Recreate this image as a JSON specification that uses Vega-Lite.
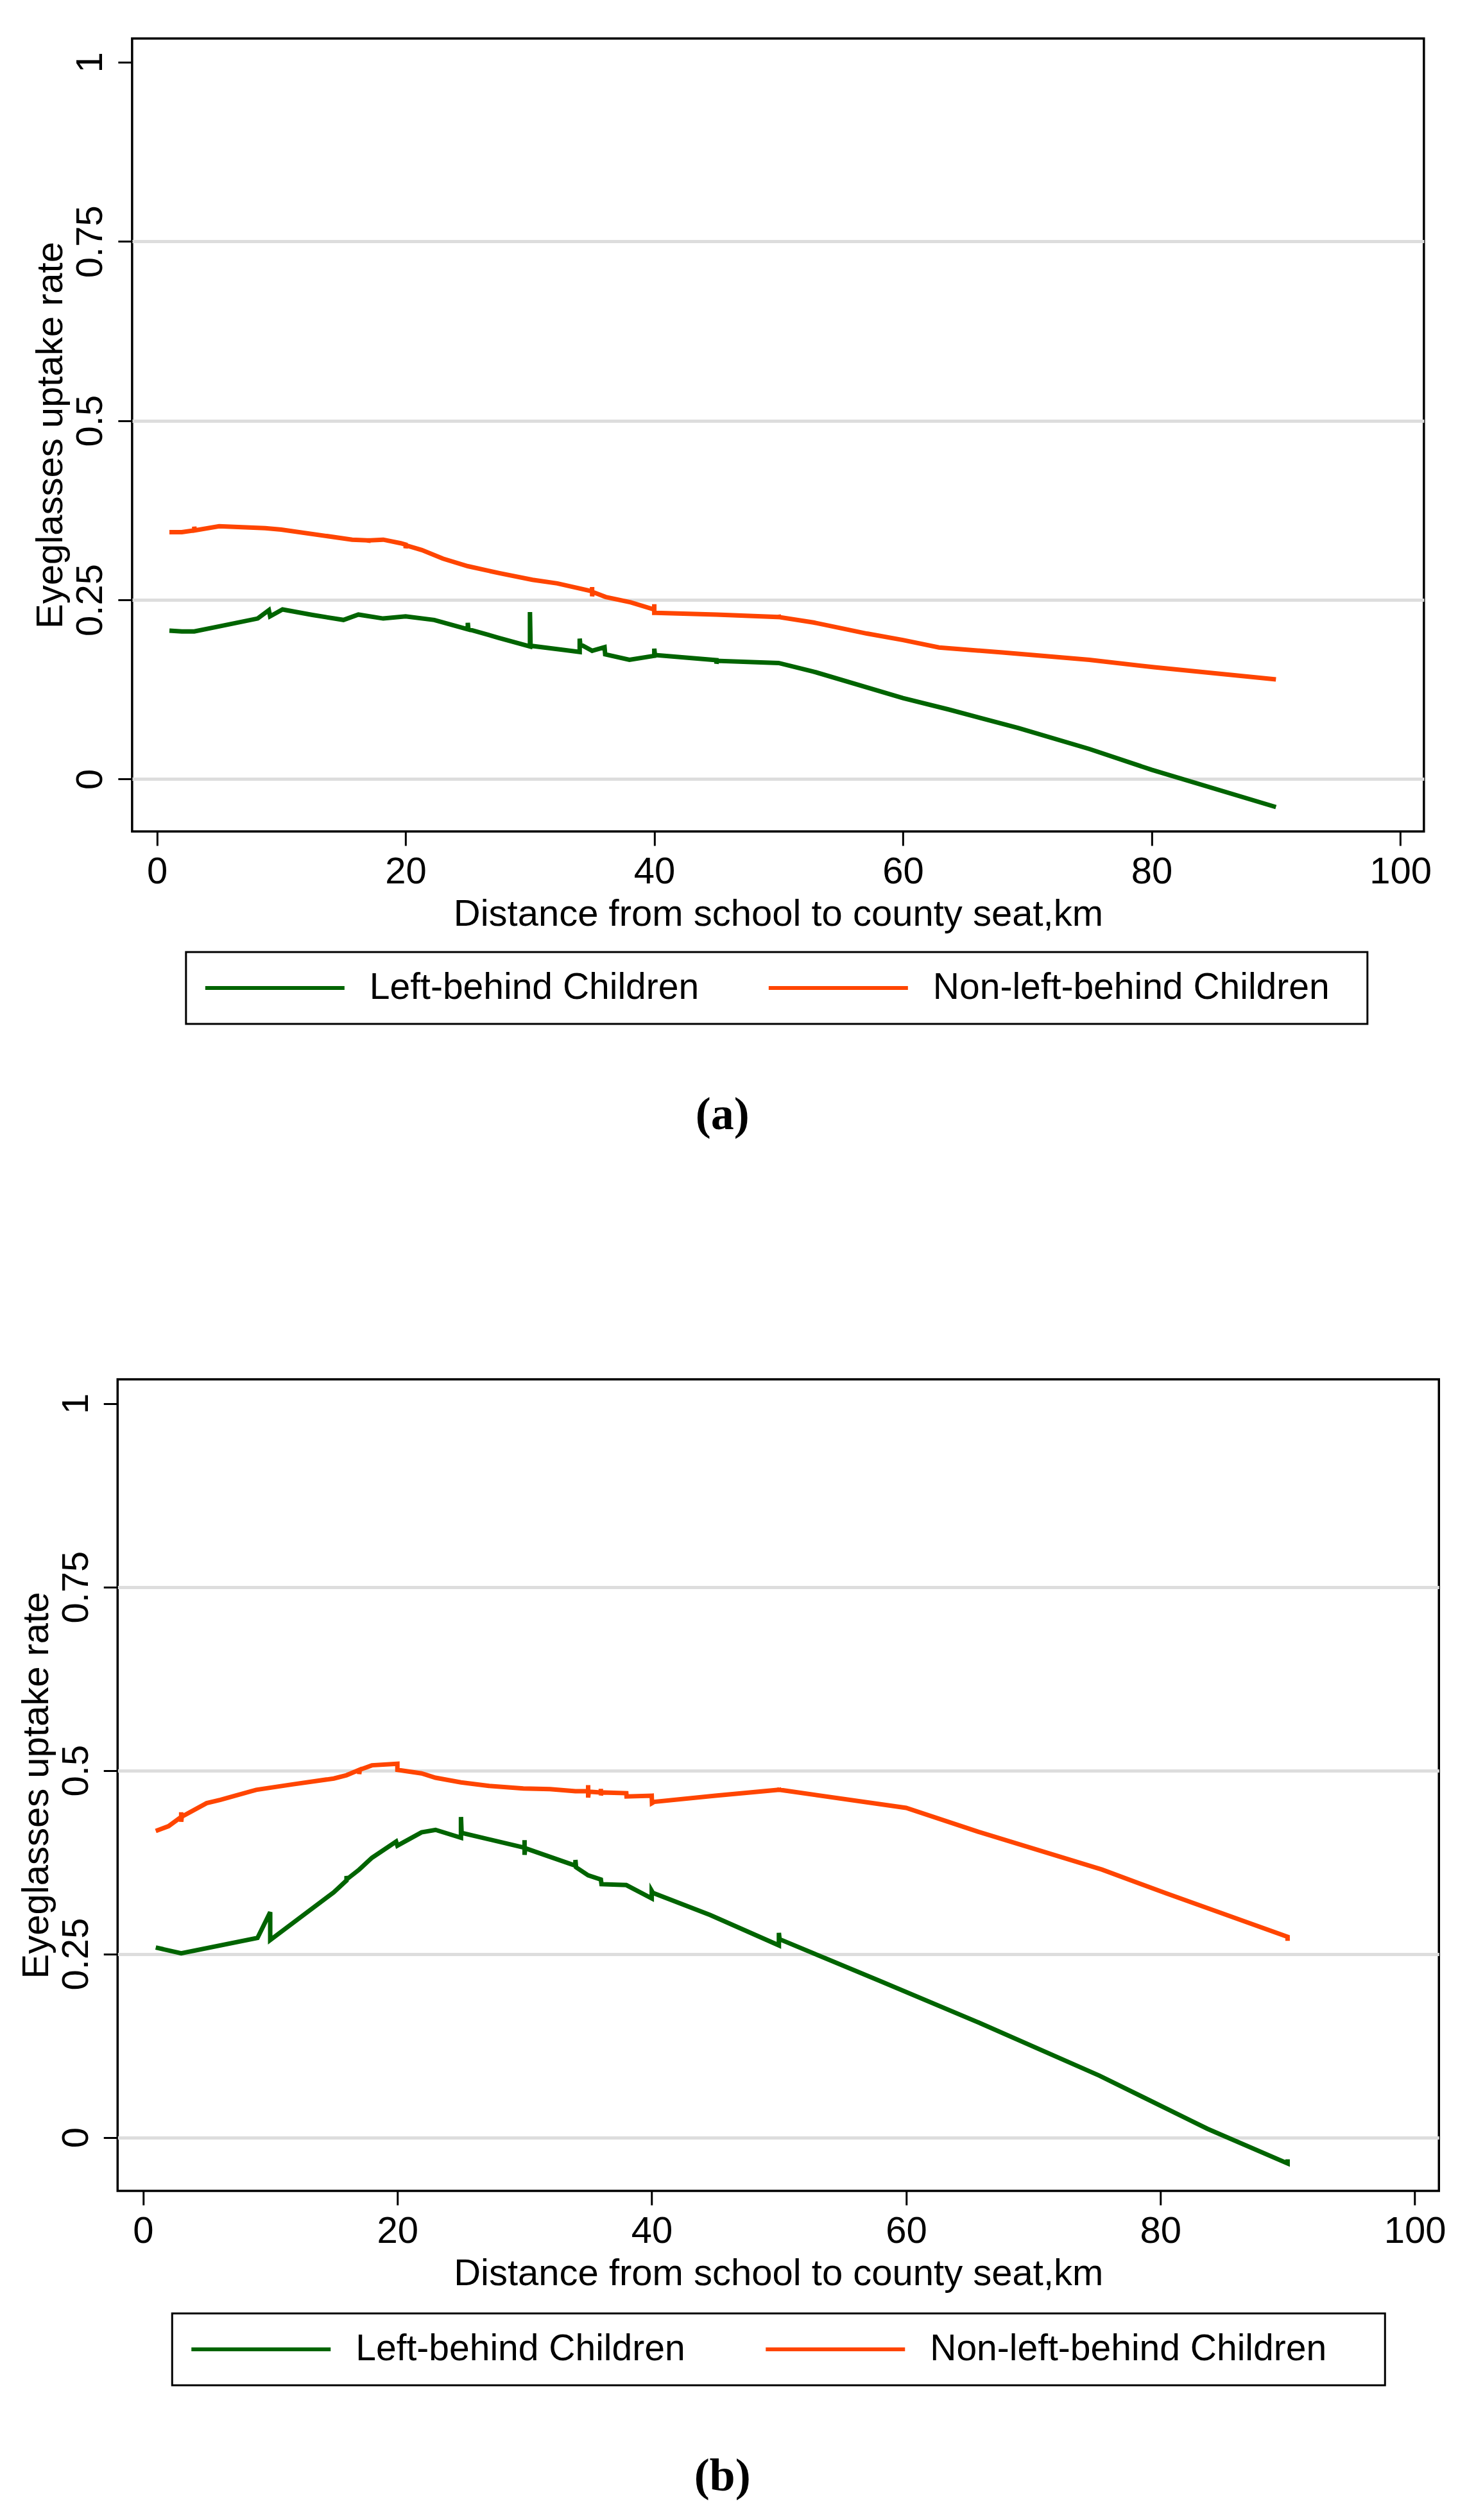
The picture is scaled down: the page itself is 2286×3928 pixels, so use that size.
{
  "$schema": "https://vega.github.io/schema/vega-lite/v6.json",
  "background": "white",
  "padding": {"left": 26, "top": 58, "right": 20, "bottom": 20},
  "spacing": 372,
  "center": true,

  "config": {
    "font": "Liberation Sans",
    "view": {"stroke": "black", "strokeWidth": 3.5},
    "axis": {
      "domain": false,
      "tickColor": "black",
      "tickWidth": 3,
      "tickSize": 22,
      "labelFont": "Liberation Sans",
      "labelFontSize": 58,
      "labelColor": "black",
      "labelFlush": false,
      "labelOverlap": false,
      "labelBound": false,
      "titleFont": "Liberation Sans",
      "titleFontSize": 58,
      "titleFontWeight": "normal",
      "titleColor": "black"
    },
    "axisX": {
      "grid": false,
      "labelBaseline": "top",
      "labelPadding": 12,
      "titlePadding": 8
    },
    "axisY": {
      "grid": true,
      "gridColor": {"condition": {"test": "datum.value === 1", "value": "transparent"}, "value": "#dddddd"},
      "gridWidth": 5,
      "labelAngle": -90,
      "labelAlign": "center",
      "labelBaseline": "alphabetic",
      "labelPadding": 25,
      "titlePadding": 4
    },
    "legend": {
      "orient": "none",
      "direction": "horizontal",
      "symbolType": "stroke",
      "symbolSize": 47089,
      "symbolStrokeWidth": 6,
      "labelFont": "Liberation Sans",
      "labelFontSize": 57,
      "labelColor": "black",
      "labelLimit": 1000,
      "labelOffset": 36,
      "padding": 27,
      "strokeColor": "black",
      "strokeWidth": 3,
      "clipHeight": 58
    },
    "title": {
      "font": "Liberation Serif",
      "fontSize": 72,
      "fontWeight": "bold",
      "color": "black",
      "frame": "bounds",
      "dx": -15
    }
  },

  "datasets": {
    "a": [
      {"i": 1, "group": "Left-behind Children", "distance": 1, "rate": 0.207},
      {"i": 2, "group": "Left-behind Children", "distance": 2, "rate": 0.206},
      {"i": 3, "group": "Left-behind Children", "distance": 3, "rate": 0.206},
      {"i": 4, "group": "Left-behind Children", "distance": 5, "rate": 0.213},
      {"i": 5, "group": "Left-behind Children", "distance": 8.1, "rate": 0.224},
      {"i": 6, "group": "Left-behind Children", "distance": 9, "rate": 0.2356},
      {"i": 7, "group": "Left-behind Children", "distance": 9.1, "rate": 0.227},
      {"i": 8, "group": "Left-behind Children", "distance": 10.1, "rate": 0.2366},
      {"i": 9, "group": "Left-behind Children", "distance": 12.5, "rate": 0.229},
      {"i": 10, "group": "Left-behind Children", "distance": 15, "rate": 0.222},
      {"i": 11, "group": "Left-behind Children", "distance": 16.2, "rate": 0.2295},
      {"i": 12, "group": "Left-behind Children", "distance": 18.2, "rate": 0.224},
      {"i": 13, "group": "Left-behind Children", "distance": 20, "rate": 0.227},
      {"i": 14, "group": "Left-behind Children", "distance": 22.3, "rate": 0.222},
      {"i": 15, "group": "Left-behind Children", "distance": 25, "rate": 0.209},
      {"i": 16, "group": "Left-behind Children", "distance": 25, "rate": 0.218},
      {"i": 17, "group": "Left-behind Children", "distance": 25.05, "rate": 0.209},
      {"i": 18, "group": "Left-behind Children", "distance": 27.5, "rate": 0.197},
      {"i": 19, "group": "Left-behind Children", "distance": 30, "rate": 0.185},
      {"i": 20, "group": "Left-behind Children", "distance": 30, "rate": 0.233},
      {"i": 21, "group": "Left-behind Children", "distance": 30.05, "rate": 0.186},
      {"i": 22, "group": "Left-behind Children", "distance": 34, "rate": 0.1774},
      {"i": 23, "group": "Left-behind Children", "distance": 34, "rate": 0.196},
      {"i": 24, "group": "Left-behind Children", "distance": 34.05, "rate": 0.188},
      {"i": 25, "group": "Left-behind Children", "distance": 35, "rate": 0.179},
      {"i": 26, "group": "Left-behind Children", "distance": 36, "rate": 0.184},
      {"i": 27, "group": "Left-behind Children", "distance": 36.05, "rate": 0.174},
      {"i": 28, "group": "Left-behind Children", "distance": 38, "rate": 0.1665},
      {"i": 29, "group": "Left-behind Children", "distance": 40, "rate": 0.172},
      {"i": 30, "group": "Left-behind Children", "distance": 40, "rate": 0.182},
      {"i": 31, "group": "Left-behind Children", "distance": 40.05, "rate": 0.173},
      {"i": 32, "group": "Left-behind Children", "distance": 45, "rate": 0.166},
      {"i": 33, "group": "Left-behind Children", "distance": 45, "rate": 0.161},
      {"i": 34, "group": "Left-behind Children", "distance": 45.05, "rate": 0.165},
      {"i": 35, "group": "Left-behind Children", "distance": 50, "rate": 0.162},
      {"i": 36, "group": "Left-behind Children", "distance": 52.8, "rate": 0.15},
      {"i": 37, "group": "Left-behind Children", "distance": 60, "rate": 0.113},
      {"i": 38, "group": "Left-behind Children", "distance": 63.7, "rate": 0.097},
      {"i": 39, "group": "Left-behind Children", "distance": 69.3, "rate": 0.0712},
      {"i": 40, "group": "Left-behind Children", "distance": 75, "rate": 0.042},
      {"i": 41, "group": "Left-behind Children", "distance": 80, "rate": 0.013},
      {"i": 42, "group": "Left-behind Children", "distance": 90, "rate": -0.039},

      {"i": 1, "group": "Non-left-behind Children", "distance": 1, "rate": 0.3445},
      {"i": 2, "group": "Non-left-behind Children", "distance": 2, "rate": 0.3445},
      {"i": 3, "group": "Non-left-behind Children", "distance": 3, "rate": 0.347},
      {"i": 4, "group": "Non-left-behind Children", "distance": 3, "rate": 0.352},
      {"i": 5, "group": "Non-left-behind Children", "distance": 3.05, "rate": 0.347},
      {"i": 6, "group": "Non-left-behind Children", "distance": 5, "rate": 0.3527},
      {"i": 7, "group": "Non-left-behind Children", "distance": 8.7, "rate": 0.35},
      {"i": 8, "group": "Non-left-behind Children", "distance": 10, "rate": 0.348},
      {"i": 9, "group": "Non-left-behind Children", "distance": 15.7, "rate": 0.334},
      {"i": 10, "group": "Non-left-behind Children", "distance": 17, "rate": 0.333},
      {"i": 11, "group": "Non-left-behind Children", "distance": 17, "rate": 0.33},
      {"i": 12, "group": "Non-left-behind Children", "distance": 17.05, "rate": 0.333},
      {"i": 13, "group": "Non-left-behind Children", "distance": 18.2, "rate": 0.334},
      {"i": 14, "group": "Non-left-behind Children", "distance": 19.6, "rate": 0.329},
      {"i": 15, "group": "Non-left-behind Children", "distance": 20, "rate": 0.327},
      {"i": 16, "group": "Non-left-behind Children", "distance": 20, "rate": 0.322},
      {"i": 17, "group": "Non-left-behind Children", "distance": 20.05, "rate": 0.326},
      {"i": 18, "group": "Non-left-behind Children", "distance": 21.3, "rate": 0.3195},
      {"i": 19, "group": "Non-left-behind Children", "distance": 23, "rate": 0.3075},
      {"i": 20, "group": "Non-left-behind Children", "distance": 25, "rate": 0.297},
      {"i": 21, "group": "Non-left-behind Children", "distance": 27.6, "rate": 0.287},
      {"i": 22, "group": "Non-left-behind Children", "distance": 30.2, "rate": 0.278},
      {"i": 23, "group": "Non-left-behind Children", "distance": 32.2, "rate": 0.273},
      {"i": 24, "group": "Non-left-behind Children", "distance": 35, "rate": 0.262},
      {"i": 25, "group": "Non-left-behind Children", "distance": 35, "rate": 0.268},
      {"i": 26, "group": "Non-left-behind Children", "distance": 35, "rate": 0.255},
      {"i": 27, "group": "Non-left-behind Children", "distance": 35.05, "rate": 0.261},
      {"i": 28, "group": "Non-left-behind Children", "distance": 36.1, "rate": 0.254},
      {"i": 29, "group": "Non-left-behind Children", "distance": 38.1, "rate": 0.2465},
      {"i": 30, "group": "Non-left-behind Children", "distance": 40, "rate": 0.2366},
      {"i": 31, "group": "Non-left-behind Children", "distance": 40, "rate": 0.244},
      {"i": 32, "group": "Non-left-behind Children", "distance": 40, "rate": 0.232},
      {"i": 33, "group": "Non-left-behind Children", "distance": 40.1, "rate": 0.232},
      {"i": 34, "group": "Non-left-behind Children", "distance": 45, "rate": 0.2295},
      {"i": 35, "group": "Non-left-behind Children", "distance": 50, "rate": 0.226},
      {"i": 36, "group": "Non-left-behind Children", "distance": 50, "rate": 0.229},
      {"i": 37, "group": "Non-left-behind Children", "distance": 50.05, "rate": 0.226},
      {"i": 38, "group": "Non-left-behind Children", "distance": 52.8, "rate": 0.2185},
      {"i": 39, "group": "Non-left-behind Children", "distance": 57.1, "rate": 0.203},
      {"i": 40, "group": "Non-left-behind Children", "distance": 60, "rate": 0.194},
      {"i": 41, "group": "Non-left-behind Children", "distance": 62.9, "rate": 0.1836},
      {"i": 42, "group": "Non-left-behind Children", "distance": 68, "rate": 0.1767},
      {"i": 43, "group": "Non-left-behind Children", "distance": 75, "rate": 0.1664},
      {"i": 44, "group": "Non-left-behind Children", "distance": 80.2, "rate": 0.156},
      {"i": 45, "group": "Non-left-behind Children", "distance": 90, "rate": 0.139}
    ],
    "b": [
      {"i": 1, "group": "Left-behind Children", "distance": 1, "rate": 0.2587},
      {"i": 2, "group": "Left-behind Children", "distance": 3, "rate": 0.2507},
      {"i": 3, "group": "Left-behind Children", "distance": 9, "rate": 0.2717},
      {"i": 4, "group": "Left-behind Children", "distance": 10, "rate": 0.3069},
      {"i": 5, "group": "Left-behind Children", "distance": 10, "rate": 0.2688},
      {"i": 6, "group": "Left-behind Children", "distance": 15, "rate": 0.334},
      {"i": 7, "group": "Left-behind Children", "distance": 16, "rate": 0.35},
      {"i": 8, "group": "Left-behind Children", "distance": 16, "rate": 0.356},
      {"i": 9, "group": "Left-behind Children", "distance": 16.05, "rate": 0.352},
      {"i": 10, "group": "Left-behind Children", "distance": 17, "rate": 0.3649},
      {"i": 11, "group": "Left-behind Children", "distance": 18, "rate": 0.381},
      {"i": 12, "group": "Left-behind Children", "distance": 19.9, "rate": 0.403},
      {"i": 13, "group": "Left-behind Children", "distance": 20, "rate": 0.3975},
      {"i": 14, "group": "Left-behind Children", "distance": 21.9, "rate": 0.4156},
      {"i": 15, "group": "Left-behind Children", "distance": 23, "rate": 0.419},
      {"i": 16, "group": "Left-behind Children", "distance": 25, "rate": 0.4083},
      {"i": 17, "group": "Left-behind Children", "distance": 25, "rate": 0.4366},
      {"i": 18, "group": "Left-behind Children", "distance": 25.05, "rate": 0.415},
      {"i": 19, "group": "Left-behind Children", "distance": 30, "rate": 0.3946},
      {"i": 20, "group": "Left-behind Children", "distance": 30, "rate": 0.405},
      {"i": 21, "group": "Left-behind Children", "distance": 30, "rate": 0.385},
      {"i": 22, "group": "Left-behind Children", "distance": 30.05, "rate": 0.394},
      {"i": 23, "group": "Left-behind Children", "distance": 34, "rate": 0.3703},
      {"i": 24, "group": "Left-behind Children", "distance": 34, "rate": 0.378},
      {"i": 25, "group": "Left-behind Children", "distance": 34.05, "rate": 0.368},
      {"i": 26, "group": "Left-behind Children", "distance": 35, "rate": 0.357},
      {"i": 27, "group": "Left-behind Children", "distance": 36, "rate": 0.3514},
      {"i": 28, "group": "Left-behind Children", "distance": 36.05, "rate": 0.345},
      {"i": 29, "group": "Left-behind Children", "distance": 38, "rate": 0.3438},
      {"i": 30, "group": "Left-behind Children", "distance": 40, "rate": 0.3257},
      {"i": 31, "group": "Left-behind Children", "distance": 40, "rate": 0.336},
      {"i": 32, "group": "Left-behind Children", "distance": 40.1, "rate": 0.333},
      {"i": 33, "group": "Left-behind Children", "distance": 44.6, "rate": 0.303},
      {"i": 34, "group": "Left-behind Children", "distance": 50, "rate": 0.2616},
      {"i": 35, "group": "Left-behind Children", "distance": 50, "rate": 0.2786},
      {"i": 36, "group": "Left-behind Children", "distance": 50.05, "rate": 0.27},
      {"i": 37, "group": "Left-behind Children", "distance": 58, "rate": 0.2127},
      {"i": 38, "group": "Left-behind Children", "distance": 65.7, "rate": 0.1565},
      {"i": 39, "group": "Left-behind Children", "distance": 75.2, "rate": 0.0841},
      {"i": 40, "group": "Left-behind Children", "distance": 83.7, "rate": 0.0116},
      {"i": 41, "group": "Left-behind Children", "distance": 90, "rate": -0.0355},
      {"i": 42, "group": "Left-behind Children", "distance": 90, "rate": -0.03},

      {"i": 1, "group": "Non-left-behind Children", "distance": 1, "rate": 0.4174},
      {"i": 2, "group": "Non-left-behind Children", "distance": 2, "rate": 0.424},
      {"i": 3, "group": "Non-left-behind Children", "distance": 3, "rate": 0.4366},
      {"i": 4, "group": "Non-left-behind Children", "distance": 3, "rate": 0.443},
      {"i": 5, "group": "Non-left-behind Children", "distance": 3, "rate": 0.43},
      {"i": 6, "group": "Non-left-behind Children", "distance": 3.05, "rate": 0.437},
      {"i": 7, "group": "Non-left-behind Children", "distance": 5, "rate": 0.4554},
      {"i": 8, "group": "Non-left-behind Children", "distance": 6.1, "rate": 0.46},
      {"i": 9, "group": "Non-left-behind Children", "distance": 8.9, "rate": 0.4736},
      {"i": 10, "group": "Non-left-behind Children", "distance": 11.75, "rate": 0.481},
      {"i": 11, "group": "Non-left-behind Children", "distance": 15, "rate": 0.489},
      {"i": 12, "group": "Non-left-behind Children", "distance": 16, "rate": 0.4935},
      {"i": 13, "group": "Non-left-behind Children", "distance": 17, "rate": 0.5007},
      {"i": 14, "group": "Non-left-behind Children", "distance": 17, "rate": 0.495},
      {"i": 15, "group": "Non-left-behind Children", "distance": 17.05, "rate": 0.501},
      {"i": 16, "group": "Non-left-behind Children", "distance": 18, "rate": 0.507},
      {"i": 17, "group": "Non-left-behind Children", "distance": 20, "rate": 0.509},
      {"i": 18, "group": "Non-left-behind Children", "distance": 20, "rate": 0.5007},
      {"i": 19, "group": "Non-left-behind Children", "distance": 21.9, "rate": 0.496},
      {"i": 20, "group": "Non-left-behind Children", "distance": 23, "rate": 0.49},
      {"i": 21, "group": "Non-left-behind Children", "distance": 25, "rate": 0.4837},
      {"i": 22, "group": "Non-left-behind Children", "distance": 27.2, "rate": 0.479},
      {"i": 23, "group": "Non-left-behind Children", "distance": 29.9, "rate": 0.4754},
      {"i": 24, "group": "Non-left-behind Children", "distance": 32, "rate": 0.4746},
      {"i": 25, "group": "Non-left-behind Children", "distance": 34, "rate": 0.4717},
      {"i": 26, "group": "Non-left-behind Children", "distance": 35, "rate": 0.4717},
      {"i": 27, "group": "Non-left-behind Children", "distance": 35, "rate": 0.48},
      {"i": 28, "group": "Non-left-behind Children", "distance": 35, "rate": 0.463},
      {"i": 29, "group": "Non-left-behind Children", "distance": 35.05, "rate": 0.471},
      {"i": 30, "group": "Non-left-behind Children", "distance": 36, "rate": 0.47},
      {"i": 31, "group": "Non-left-behind Children", "distance": 36, "rate": 0.475},
      {"i": 32, "group": "Non-left-behind Children", "distance": 36, "rate": 0.466},
      {"i": 33, "group": "Non-left-behind Children", "distance": 36.05, "rate": 0.47},
      {"i": 34, "group": "Non-left-behind Children", "distance": 38, "rate": 0.469},
      {"i": 35, "group": "Non-left-behind Children", "distance": 38.02, "rate": 0.4645},
      {"i": 36, "group": "Non-left-behind Children", "distance": 40, "rate": 0.4656},
      {"i": 37, "group": "Non-left-behind Children", "distance": 40.02, "rate": 0.4554},
      {"i": 38, "group": "Non-left-behind Children", "distance": 40.2, "rate": 0.4572},
      {"i": 39, "group": "Non-left-behind Children", "distance": 45, "rate": 0.4656},
      {"i": 40, "group": "Non-left-behind Children", "distance": 50, "rate": 0.4736},
      {"i": 41, "group": "Non-left-behind Children", "distance": 50, "rate": 0.476},
      {"i": 42, "group": "Non-left-behind Children", "distance": 50.05, "rate": 0.4736},
      {"i": 43, "group": "Non-left-behind Children", "distance": 60, "rate": 0.449},
      {"i": 44, "group": "Non-left-behind Children", "distance": 65.7, "rate": 0.4163},
      {"i": 45, "group": "Non-left-behind Children", "distance": 75.4, "rate": 0.3649},
      {"i": 46, "group": "Non-left-behind Children", "distance": 80.5, "rate": 0.3322},
      {"i": 47, "group": "Non-left-behind Children", "distance": 90, "rate": 0.2732},
      {"i": 48, "group": "Non-left-behind Children", "distance": 90, "rate": 0.2678}
    ]
  },

  "vconcat": [
    {
      "width": 2013,
      "height": 1236,
      "data": {"name": "a"},
      "title": {"text": "(a)", "orient": "bottom", "offset": 105},
      "mark": {"type": "line", "strokeWidth": 7},
      "encoding": {
        "x": {
          "field": "distance",
          "type": "quantitative",
          "scale": {"domain": [-2, 101.9], "nice": false, "zero": false},
          "axis": {"values": [0, 20, 40, 60, 80, 100], "title": "Distance from school to county seat,km"}
        },
        "y": {
          "field": "rate",
          "type": "quantitative",
          "scale": {"domain": [-0.073, 1.033], "nice": false, "zero": false},
          "axis": {"values": [0, 0.25, 0.5, 0.75, 1], "format": ".2~f", "title": "Eyeglasses uptake rate"}
        },
        "color": {
          "field": "group",
          "type": "nominal",
          "scale": {"domain": ["Left-behind Children", "Non-left-behind Children"], "range": ["#006400", "#ff4500"]},
          "legend": {
            "title": null,
            "legendX": 84,
            "legendY": 1424,
            "columnPadding": 105,
            "labelExpr": "datum.value === 'Non-left-behind Children' ? datum.label + '\u00a0\u00a0\u200b' : datum.label"
          }
        },
        "order": {"field": "i", "type": "quantitative"}
      }
    },
    {
      "width": 2059,
      "height": 1265,
      "data": {"name": "b"},
      "title": {"text": "(b)", "orient": "bottom", "offset": 105},
      "mark": {"type": "line", "strokeWidth": 7},
      "encoding": {
        "x": {
          "field": "distance",
          "type": "quantitative",
          "scale": {"domain": [-2, 101.9], "nice": false, "zero": false},
          "axis": {"values": [0, 20, 40, 60, 80, 100], "title": "Distance from school to county seat,km"}
        },
        "y": {
          "field": "rate",
          "type": "quantitative",
          "scale": {"domain": [-0.073, 1.033], "nice": false, "zero": false},
          "axis": {"values": [0, 0.25, 0.5, 0.75, 1], "format": ".2~f", "title": "Eyeglasses uptake rate"}
        },
        "color": {
          "field": "group",
          "type": "nominal",
          "scale": {"domain": ["Left-behind Children", "Non-left-behind Children"], "range": ["#006400", "#ff4500"]},
          "legend": {
            "title": null,
            "legendX": 85,
            "legendY": 1456,
            "columnPadding": 122,
            "labelExpr": "datum.value === 'Non-left-behind Children' ? datum.label + '\u00a0\u00a0\u00a0\u00a0\u200b' : datum.label"
          }
        },
        "order": {"field": "i", "type": "quantitative"}
      }
    }
  ],
  "resolve": {"scale": {"color": "independent"}, "legend": {"color": "independent"}}
}
